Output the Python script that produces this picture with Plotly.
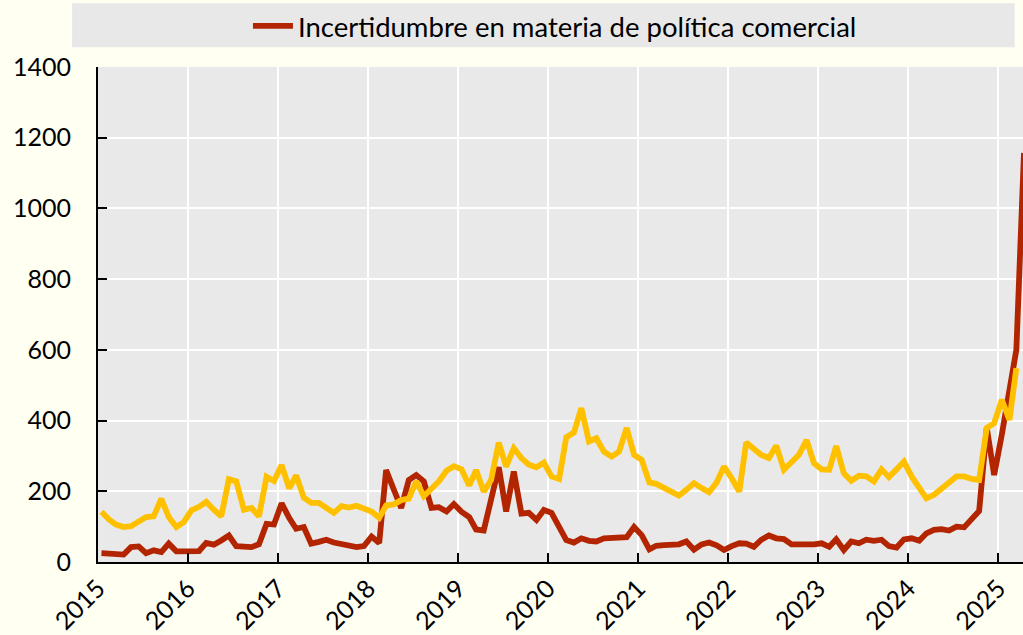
import pandas as pd
import plotly.graph_objects as go

# Monthly values, Jan 2015 onwards
red_values = [25, 24, 21, 21, 42, 44, 25, 33, 28, 52, 30, 30,
              33, 31, 54, 49, 61, 75, 45, 42, 42, 50, 108, 106,
              166, 124, 94, 99, 52, 57, 63, 55, 52, 47, 42, 45,
              72, 54, 260, 205, 153, 232, 246, 228, 153, 155, 143, 164,
              142, 127, 92, 89, 178, 268, 143, 256, 137, 139, 119, 147,
              139, 100, 62, 55, 67, 60, 58, 67, 67, 70, 70, 99,
              76, 36, 46, 48, 50, 50, 58, 35, 50, 55, 47, 34,
              45, 53, 52, 43, 63, 75, 67, 65, 50, 48, 50, 50,
              53, 43, 64, 34, 58, 53, 63, 60, 63, 45, 41, 64,
              67, 60, 81, 91, 93, 89, 100, 98, 124, 144, 379, 246,
              360, 480, 600, 1157]
yellow_values = [142, 120, 106, 99, 101, 113, 127, 129, 179, 127, 99, 113,
                 146, 156, 170, 148, 129, 234, 228, 148, 153, 129, 241, 229,
                 274, 208, 245, 182, 167, 167, 151, 139, 158, 154, 159, 153,
                 143, 125, 160, 163, 175, 179, 228, 186, 205, 228, 258, 271,
                 262, 216, 260, 199, 232, 338, 270, 322, 294, 275, 268, 281,
                 242, 235, 353, 366, 435, 341, 350, 312, 298, 312, 379, 303,
                 289, 225, 221, 211, 199, 188, 204, 223, 209, 197, 225, 270,
                 237, 199, 338, 322, 303, 294, 329, 261, 284, 303, 345, 279,
                 262, 261, 328, 251, 230, 244, 242, 228, 262, 240, 262, 284,
                 242, 209, 180, 190, 209, 225, 242, 242, 235, 232, 379, 393,
                 459, 402, 548]
red_name = "Incertidumbre en materia de política comercial"
y_ticks = [0, 200, 400, 600, 800, 1000, 1200, 1400]

months_red = pd.date_range("2015-01-01", periods=len(red_values), freq="MS") + pd.Timedelta(days=14)
months_yel = pd.date_range("2015-01-01", periods=len(yellow_values), freq="MS") + pd.Timedelta(days=14)

FONT = "Lato"
RED = "#B22500"
YEL = "#FFC000"

fig = go.Figure()
fig.add_trace(go.Scatter(x=months_red, y=red_values, mode="lines", name=red_name,
                         line=dict(color=RED, width=5.8), showlegend=True))
fig.add_trace(go.Scatter(x=months_yel, y=yellow_values, mode="lines", name="",
                         line=dict(color=YEL, width=5.8), showlegend=False))

fig.add_shape(type="rect", xref="paper", yref="paper",
              x0=-0.028, x1=0.991, y0=1.040, y1=1.129,
              fillcolor="#E8E8E8", line=dict(width=0), layer="below")

fig.update_layout(
    width=1023, height=635, autosize=False,
    margin=dict(l=98, r=0, t=67, b=73),
    paper_bgcolor="#FFFFF2",
    plot_bgcolor="#E9E9E9",
    font=dict(family=FONT, size=25, color="black"),
    legend=dict(orientation="h", x=0.494, xanchor="center", y=1.083, yanchor="middle",
                bgcolor="rgba(0,0,0,0)", font=dict(family=FONT, size=27.5, color="black"),
                itemwidth=40),
    xaxis=dict(type="date", range=["2015-01-01", "2025-04-11"],
               tick0="2015-01-01", dtick="M12", tickformat="%Y", tickangle=-45,
               showgrid=True, gridcolor="white", gridwidth=2,
               showline=True, linecolor="black", linewidth=2,
               ticks="inside", ticklen=9, tickwidth=2, tickcolor="black",
               tickfont=dict(family=FONT, size=25, color="black"), zeroline=False,
               automargin=False),
    yaxis=dict(range=[0, 1400], tickvals=y_ticks,
               showgrid=True, gridcolor="white", gridwidth=2,
               showline=True, linecolor="black", linewidth=2,
               ticks="inside", ticklen=9, tickwidth=2, tickcolor="black",
               tickfont=dict(family=FONT, size=25, color="black"), zeroline=False,
               ticklabelstandoff=20, automargin=False),
)

fig.write_html("out.html", config={"displayModeBar": False},
               post_script="document.body.style.margin='0';document.body.style.overflow='hidden';")
